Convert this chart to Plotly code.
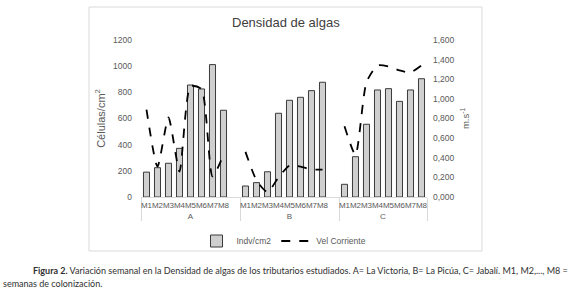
import plotly.graph_objects as go

# ---- data ----
sitios = ["A", "B", "C"]
semanas = ["M1", "M2", "M3", "M4", "M5", "M6", "M7", "M8"]
densidad_A = [190, 224, 258, 372, 856, 826, 1012, 663]
densidad_B = [84, 110, 193, 640, 739, 762, 813, 877]
densidad_C = [97, 308, 556, 818, 828, 731, 818, 904]
vel_A = [0.89, 0.31, 0.81, 0.26, 1.13, 1.10, 0.21, 0.43]
vel_B = [0.46, 0.17, 0.05, 0.20, 0.32, 0.31, 0.28, 0.28]
vel_C = [0.72, 0.43, 1.17, 1.34, 1.33, 1.29, 1.27, 1.34]
left_ticks = [0, 200, 400, 600, 800, 1000, 1200]
right_ticks = [0, 0.2, 0.4, 0.6, 0.8, 1.0, 1.2, 1.4, 1.6]

# build multicategory x (blank slot after A and B, as in the source sheet)
dens_all = [densidad_A, densidad_B, densidad_C]
vel_all = [vel_A, vel_B, vel_C]
grp, sub, dens, vel = [], [], [], []
for i, s in enumerate(sitios):
    grp += [s] * len(semanas)
    sub += semanas
    dens += dens_all[i]
    vel += vel_all[i]
    if i < len(sitios) - 1:
        grp.append(s)
        sub.append(" ")
        dens.append(None)
        vel.append(None)

FONT = "Liberation Sans, Arial, sans-serif"
GRAY = "#595959"

fig = go.Figure()
fig.add_trace(go.Bar(
    x=[grp, sub], y=dens, name="Indv/cm2", width=0.55,
    marker=dict(color="#cfcfcf", line=dict(color="#3a3a3a", width=1)),
))
fig.add_trace(go.Scatter(
    x=[grp, sub], y=vel, name="Vel Corriente", yaxis="y2", mode="lines",
    line=dict(color="black", width=1.8, dash="dash", shape="spline", smoothing=0.6),
    connectgaps=False,
))

W, H = 577, 296
L, R = 141, 427
T, B = 40, 197
pw, ph = R - L, B - T

def px(x):
    return (x - L) / pw

def py(y):
    return (B - y) / ph

fig.update_layout(
    width=W, height=H,
    margin=dict(l=L, r=W - R, t=T, b=H - B, pad=0, autoexpand=False),
    paper_bgcolor="white", plot_bgcolor="white",
    separators=",.",
    font=dict(family=FONT, size=8, color=GRAY),
    showlegend=True,
    legend=dict(orientation="h", x=0.5, xanchor="center", y=py(241), yanchor="middle",
                font=dict(size=8.5, color=GRAY), bgcolor="rgba(0,0,0,0)",
                itemwidth=30, tracegroupgap=0),
    xaxis=dict(type="multicategory", showline=True, linecolor="#d9d9d9", linewidth=1,
               showgrid=False, ticks="", showdividers=True, dividercolor="#d9d9d9",
               dividerwidth=1, tickangle=0, automargin=False,
               tickfont=dict(size=8, color=GRAY)),
    yaxis=dict(range=[0, 1200], tickvals=left_ticks, tickformat=".0f", showgrid=False,
               showline=False, zeroline=False, ticks="", ticklabelstandoff=8, automargin=False,
               tickfont=dict(size=8.5, color=GRAY),
               title=dict(text="Células/cm<sup>2</sup>", font=dict(size=11, color=GRAY), standoff=5)),
    yaxis2=dict(range=[0, 1.6], tickvals=right_ticks, tickformat=".3f", overlaying="y",
                side="right", showgrid=False, showline=False, zeroline=False, ticks="",
                ticklabelstandoff=5, automargin=False, tickfont=dict(size=8.5, color=GRAY),
                title=dict(text="m.s<sup>-1</sup>", font=dict(size=9.5, color=GRAY), standoff=8)),
    shapes=[dict(type="rect", xref="paper", yref="paper",
                 x0=px(89), x1=px(482), y0=py(251), y1=py(7),
                 line=dict(color="#d9d9d9", width=1), fillcolor="rgba(0,0,0,0)", layer="below")],
    annotations=[
        dict(text="Densidad de algas", xref="paper", yref="paper", x=px(285.5), y=py(22),
             xanchor="center", yanchor="middle", showarrow=False,
             font=dict(size=13, color="#404040", family=FONT)),
        dict(text="<b>Figura 2.</b> Variación semanal en la Densidad de algas de los tributarios estudiados. "
                  "A= La Victoria, B= La Picúa, C= Jabalí. M1, M2,..., M8 =",
             xref="paper", yref="paper", x=px(31), y=py(270), xanchor="left", yanchor="middle",
             showarrow=False, font=dict(size=9.0, color="#303030", family="Lato, sans-serif")),
        dict(text="semanas de colonización.", xref="paper", yref="paper", x=px(1), y=py(283),
             xanchor="left", yanchor="middle", showarrow=False,
             font=dict(size=9.0, color="#303030", family="Lato, sans-serif")),
    ],
)

fig.write_html("out.html", config={"displayModeBar": False},
               post_script="document.body.style.margin='0px';")
